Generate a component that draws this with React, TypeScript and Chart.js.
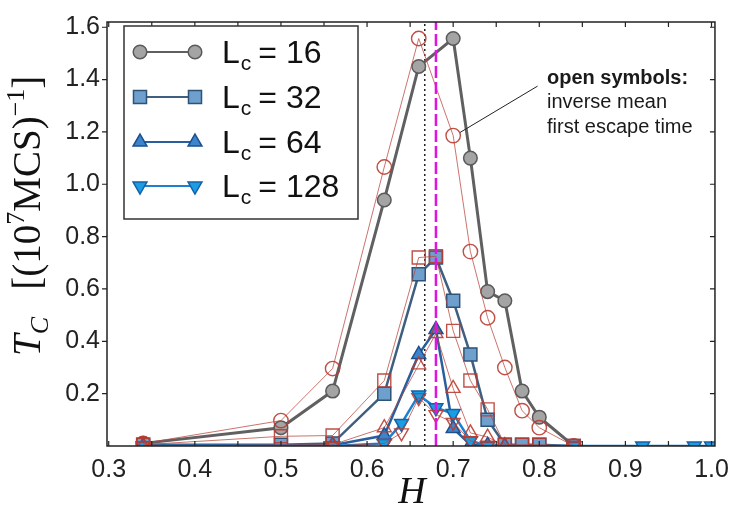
import React, { useEffect, useRef } from "react";
import { Chart, registerables } from "chart.js";
Chart.register(...registerables);

// ---- data (H = field, T_C values) ----
const H16 = [0.34, 0.5, 0.56, 0.62, 0.66, 0.7, 0.72, 0.74, 0.76, 0.78, 0.8, 0.84];
const T16 = [0.01, 0.07, 0.21, 0.94, 1.45, 1.557, 1.1, 0.59, 0.555, 0.21, 0.11, 0.0];
const T16_OPEN = [0.01, 0.097, 0.296, 1.066, 1.557, 1.186, 0.743, 0.49, 0.3, 0.135, 0.07, 0.0];

const H32 = [0.34, 0.5, 0.56, 0.62, 0.66, 0.68, 0.7, 0.72, 0.74, 0.76, 0.78, 0.8, 0.84];
const T32 = [0.005, 0.005, 0.01, 0.2, 0.656, 0.72, 0.555, 0.35, 0.1, 0.005, 0.005, 0.005, 0.0];
const T32_OPEN = [0.005, 0.037, 0.04, 0.25, 0.72, 0.725, 0.44, 0.25, 0.14, 0.005, 0.005, 0.005, 0.0];

const H64 = [0.34, 0.56, 0.62, 0.66, 0.68, 0.7, 0.72, 0.74, 0.76];
const T64 = [0.0, 0.003, 0.04, 0.35, 0.445, 0.067, 0.005, 0.003, 0.0];
const T64_OPEN = [0.0, 0.005, 0.07, 0.31, 0.43, 0.22, 0.05, 0.034, 0.0];

const H128 = [0.34, 0.56, 0.62, 0.64, 0.66, 0.68, 0.7, 0.72, 0.74, 0.84, 0.92, 0.98, 1.0];
const T128 = [0.0, 0.0, 0.01, 0.086, 0.195, 0.146, 0.124, 0.02, 0.0, 0.0, 0.0, 0.0, 0.0];
const H128_OPEN = [0.34, 0.56, 0.62, 0.64, 0.66, 0.68, 0.7, 0.72, 0.74, 0.84];
const T128_OPEN = [0.0, 0.0, 0.01, 0.05, 0.185, 0.12, 0.09, 0.02, 0.0, 0.0];

const H_DOTTED = 0.667;
const H_DASHED = 0.68;
const POINTER_H = [0.798, 0.708];
const POINTER_T = [1.375, 1.198];

const X_LABEL_TICKS = [0.3, 0.4, 0.5, 0.6, 0.7, 0.8, 0.9, 1.0];
const X_MINOR_TICKS = [0.3, 0.35, 0.4, 0.45, 0.5, 0.55, 0.6, 0.65, 0.7, 0.75, 0.8, 0.85, 0.9, 0.95, 1.0];
const Y_TICKS = [0.2, 0.4, 0.6, 0.8, 1.0, 1.2, 1.4, 1.6];
const LEGEND_LABELS = ["16", "32", "64", "128"];
const NOTE_LINES = ["open symbols:", "inverse mean", "first escape time"];

const X_MIN = 0.298;
const X_MAX = 1.004;
const Y_MIN = 0;
const Y_MAX = 1.62;

const RED = "rgba(185,60,50,0.9)";
const RED_LINE = "rgba(185,70,60,0.75)";
const SANS = "'Liberation Sans', Arial, sans-serif";
const SERIF = "'Liberation Serif', 'DejaVu Serif', serif";

const pts = (hs: number[], ts: number[]) => hs.map((h, i) => ({ x: h, y: ts[i] }));

const STYLES = [
  { style: "circle", rot: 0, r: 6.8, bg: "#a4a4a4", border: "#5a5a5a", line: "#606060", lw: 3 },
  { style: "rect", rot: 0, r: 9.2, bg: "#6f9fcd", border: "#2d5377", line: "#3e5f80", lw: 2.5 },
  { style: "triangle", rot: 0, r: 8, bg: "#3c84cc", border: "#1d4f8c", line: "#285f9c", lw: 2.5 },
  { style: "triangle", rot: 180, r: 8, bg: "#1a9de2", border: "#1560a8", line: "#1f80d2", lw: 2.5 },
];

function drawMarker(ctx: CanvasRenderingContext2D, s: any, x: number, y: number) {
  ctx.save();
  ctx.beginPath();
  if (s.style === "circle") {
    ctx.arc(x, y, s.r, 0, Math.PI * 2);
  } else if (s.style === "rect") {
    const h = s.r * Math.SQRT1_2;
    ctx.rect(x - h, y - h, 2 * h, 2 * h);
  } else {
    let rad = (s.rot * Math.PI) / 180;
    for (let k = 0; k < 3; k++) {
      const px = x + Math.sin(rad) * s.r;
      const py = y - Math.cos(rad) * s.r;
      if (k === 0) ctx.moveTo(px, py);
      else ctx.lineTo(px, py);
      rad += (2 * Math.PI) / 3;
    }
    ctx.closePath();
  }
  ctx.fillStyle = s.bg;
  ctx.fill();
  ctx.strokeStyle = s.border;
  ctx.lineWidth = 1.5;
  ctx.stroke();
  ctx.restore();
}

const overlay = {
  id: "overlay",
  afterDraw(chart: any) {
    const { ctx, chartArea: a, scales } = chart;
    const xs = scales.x;
    const ys = scales.y;
    ctx.save();
    // frame
    ctx.strokeStyle = "#222";
    ctx.lineWidth = 1.5;
    ctx.strokeRect(a.left, a.top, a.right - a.left, a.bottom - a.top);
    // ticks
    ctx.lineWidth = 1.2;
    ctx.beginPath();
    X_MINOR_TICKS.forEach((v) => {
      const px = xs.getPixelForValue(v);
      ctx.moveTo(px, a.bottom);
      ctx.lineTo(px, a.bottom - 5);
      ctx.moveTo(px, a.top);
      ctx.lineTo(px, a.top + 5);
    });
    Y_TICKS.forEach((v) => {
      const py = ys.getPixelForValue(v);
      ctx.moveTo(a.left - 5, py);
      ctx.lineTo(a.left, py);
      ctx.moveTo(a.right, py);
      ctx.lineTo(a.right - 5, py);
    });
    ctx.stroke();

    // legend
    const bx = 124, by = 26, bw = 234, bh = 193;
    ctx.fillStyle = "#fff";
    ctx.fillRect(bx, by, bw, bh);
    ctx.strokeStyle = "#333";
    ctx.lineWidth = 1.5;
    ctx.strokeRect(bx, by, bw, bh);
    const rows = [52, 97, 142, 186];
    LEGEND_LABELS.forEach((lab, i) => {
      const s = STYLES[i];
      const cy = rows[i];
      ctx.strokeStyle = s.line;
      ctx.lineWidth = 1.8;
      ctx.beginPath();
      ctx.moveTo(140, cy);
      ctx.lineTo(195, cy);
      ctx.stroke();
      drawMarker(ctx, s, 140, cy);
      drawMarker(ctx, s, 195, cy);
      ctx.fillStyle = "#111";
      ctx.textAlign = "left";
      ctx.textBaseline = "alphabetic";
      let tx = 222;
      ctx.font = `32px ${SANS}`;
      ctx.fillText("L", tx, cy + 11);
      tx += ctx.measureText("L").width + 1;
      ctx.font = `21px ${SANS}`;
      ctx.fillText("c", tx, cy + 18);
      tx += ctx.measureText("c").width + 7;
      ctx.font = `32px ${SANS}`;
      ctx.fillText("= " + lab, tx, cy + 11);
    });

    // note
    ctx.fillStyle = "#1a1a1a";
    ctx.font = `bold 20px ${SANS}`;
    ctx.fillText(NOTE_LINES[0], 547, 84);
    ctx.font = `20px ${SANS}`;
    ctx.fillText(NOTE_LINES[1], 547, 108);
    ctx.fillText(NOTE_LINES[2], 547, 133);

    // x title
    ctx.fillStyle = "#111";
    ctx.font = `italic 38px ${SERIF}`;
    ctx.textAlign = "center";
    ctx.fillText("H", 412, 503);

    // y title (rotated)
    ctx.save();
    ctx.translate(40, 356);
    ctx.rotate(-Math.PI / 2);
    ctx.textAlign = "left";
    const S = 39;
    let t = 0;
    const part = (txt: string, font: string, dy: number) => {
      ctx.font = font;
      ctx.fillText(txt, t, dy);
      t += ctx.measureText(txt).width;
    };
    part("T", `italic ${S}px ${SERIF}`, 0);
    part("C", `italic ${Math.round(S * 0.66)}px ${SERIF}`, S * 0.2);
    t += S * 0.7;
    part("[(10", `${S}px ${SERIF}`, 0);
    part("7", `${Math.round(S * 0.66)}px ${SERIF}`, -S * 0.4);
    part("MCS)", `${S}px ${SERIF}`, 0);
    part("\u22121", `${Math.round(S * 0.66)}px ${SERIF}`, -S * 0.4);
    part("]", `${S}px ${SERIF}`, 0);
    ctx.restore();

    ctx.restore();
  },
};

export default function App() {
  const ref = useRef<HTMLCanvasElement | null>(null);
  useEffect(() => {
    if (!ref.current) return;
    const filled = (i: number, hs: number[], ts: number[], order: number) => {
      const s = STYLES[i];
      return {
        data: pts(hs, ts),
        showLine: true,
        borderColor: s.line,
        borderWidth: s.lw,
        pointStyle: s.style,
        pointRotation: s.rot,
        pointRadius: s.r,
        pointBackgroundColor: s.bg,
        pointBorderColor: s.border,
        pointBorderWidth: 1.5,
        order,
      };
    };
    const open = (i: number, hs: number[], ts: number[], order: number) => {
      const s = STYLES[i];
      return {
        data: pts(hs, ts),
        showLine: true,
        borderColor: RED_LINE,
        borderWidth: 1,
        pointStyle: s.style,
        pointRotation: s.rot,
        pointRadius: s.style === "circle" ? 7.2 : s.r,
        pointBackgroundColor: "rgba(255,255,255,0)",
        pointBorderColor: RED,
        pointBorderWidth: 1.4,
        order,
      };
    };
    const chart = new Chart(ref.current, {
      type: "scatter",
      data: {
        datasets: [
          {
            data: pts([H_DASHED, H_DASHED], [Y_MIN, Y_MAX]),
            showLine: true,
            borderColor: "#e014e0",
            borderWidth: 2.5,
            borderDash: [12, 4],
            pointRadius: 0,
            order: 0,
          },
          {
            data: pts(POINTER_H, POINTER_T),
            showLine: true,
            borderColor: "#222",
            borderWidth: 1,
            pointRadius: 0,
            order: 1,
          },
          open(3, H128_OPEN, T128_OPEN, 2),
          open(2, H64, T64_OPEN, 3),
          open(1, H32, T32_OPEN, 4),
          open(0, H16, T16_OPEN, 5),
          filled(3, H128, T128, 6),
          filled(2, H64, T64, 7),
          filled(1, H32, T32, 8),
          filled(0, H16, T16, 9),
          {
            data: pts([H_DOTTED, H_DOTTED], [Y_MIN, Y_MAX]),
            showLine: true,
            borderColor: "#222",
            borderWidth: 1.5,
            borderDash: [2, 3],
            pointRadius: 0,
            order: 10,
          },
        ] as any,
      },
      options: {
        animation: false,
        responsive: false,
        devicePixelRatio: 1,
        events: [],
        layout: { padding: { left: 0, right: 20, top: 15, bottom: 0 } },
        plugins: { legend: { display: false }, tooltip: { enabled: false } },
        elements: { line: { tension: 0 } },
        scales: {
          x: {
            type: "linear",
            min: X_MIN,
            max: X_MAX,
            grid: { display: false, drawTicks: false },
            border: { display: false },
            afterBuildTicks: (s: any) => {
              s.ticks = X_LABEL_TICKS.map((v) => ({ value: v }));
            },
            afterFit: (s: any) => {
              s.height = 61;
            },
            ticks: {
              autoSkip: false,
              maxRotation: 0,
              padding: 9,
              color: "#222",
              font: { family: SANS, size: 25 },
              callback: (v: any) => Number(v).toFixed(1),
            },
          },
          y: {
            type: "linear",
            min: Y_MIN,
            max: Y_MAX,
            grid: { display: false, drawTicks: false },
            border: { display: false },
            afterBuildTicks: (s: any) => {
              s.ticks = Y_TICKS.map((v) => ({ value: v }));
            },
            afterFit: (s: any) => {
              s.width = 107;
            },
            ticks: {
              autoSkip: false,
              padding: 7,
              color: "#222",
              font: { family: SANS, size: 25 },
              callback: (v: any) => Number(v).toFixed(1),
            },
          },
        },
      },
      plugins: [overlay],
    } as any);
    return () => chart.destroy();
  }, []);
  return (
    <div style={{ position: "absolute", left: 0, top: 0, width: 738, height: 507, background: "#fff" }}>
      <canvas ref={ref} width={738} height={507} />
    </div>
  );
}
